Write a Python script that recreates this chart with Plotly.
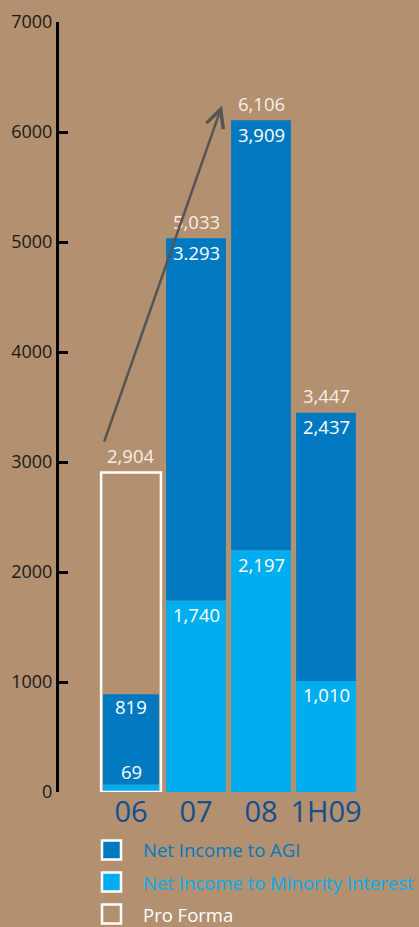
import plotly.graph_objects as go

categories = ["06", "07", "08", "1H09"]
minority = [69, 1740, 2197, 1010]
agi = [819, 3293, 3909, 2437]
pro_forma = [2904, None, None, None]
totals = [2904, 5033, 6106, 3447]
total_labels = ["2,904", "5,033", "6,106", "3,447"]
agi_labels = ["819", "3.293", "3,909", "2,437"]
minority_labels = ["69", "1,740", "2,197", "1,010"]
y_ticks = [0, 1000, 2000, 3000, 4000, 5000, 6000, 7000]

BG = "#B3906F"
DARK = "#0079C1"
LIGHT = "#00AEEF"
FONT = "Open Sans"

W, H = 419, 927
ML, MR, MT, MB = 59, 0, 22, 135
PW, PH = W - ML - MR, H - MT - MB

def px(xp):
    return (xp - ML) / PW

def py(yp):
    return (H - MB - yp) / PH

x = list(range(len(categories)))
fig = go.Figure()
widths_inner = [0.86, 0.92, 0.92, 0.92]
fig.add_trace(go.Bar(x=x, y=minority, width=widths_inner, marker=dict(color=LIGHT, line=dict(width=0)),
                     name="Net Income to Minority Interest"))
fig.add_trace(go.Bar(x=x, y=agi, base=minority, width=widths_inner, marker=dict(color=DARK, line=dict(width=0)),
                     name="Net Income to AGI"))
fig.add_trace(go.Bar(x=x, y=pro_forma, width=0.92,
                     marker=dict(color="rgba(0,0,0,0)", line=dict(color="white", width=2.5)),
                     name="Pro Forma"))

ann = []
for i in range(len(categories)):
    ann.append(dict(x=i, y=totals[i], text=total_labels[i], showarrow=False, yshift=17,
                    font=dict(family=FONT, size=18.5, color="#F6EEE6")))
    top = minority[i] + agi[i]
    ann.append(dict(x=i, y=top, text=agi_labels[i], showarrow=False, yshift=-14 if i else -12,
                    font=dict(family=FONT, size=18.5, color="white")))
    shift = 13 if i == 0 else -14
    ann.append(dict(x=i, y=minority[i], text=minority_labels[i], showarrow=False, yshift=shift,
                    font=dict(family=FONT, size=18.5, color="white")))

# growth arrow
ann.append(dict(x=1.4, y=6240, ax=-0.42, ay=3173, xref="x", yref="y", axref="x", ayref="y",
                showarrow=True, arrowhead=5, arrowsize=1.4, arrowwidth=2.5, arrowcolor="#555555",
                text=""))

# legend (custom)
legend_items = [("Net Income to AGI", DARK, DARK), ("Net Income to Minority Interest", LIGHT, LIGHT),
                ("Pro Forma", "rgba(0,0,0,0)", "white")]
shapes = []
for k, (lab, fill, tcol) in enumerate(legend_items):
    yc = 850 + k * 32
    shapes.append(dict(type="rect", xref="paper", yref="paper", x0=px(102), x1=px(121),
                       y0=py(yc + 9.5), y1=py(yc - 9.5), fillcolor=fill,
                       line=dict(color="white", width=2.5)))
    ann.append(dict(xref="paper", yref="paper", x=px(141), y=py(yc), xanchor="left", yanchor="middle",
                    text=lab, showarrow=False, font=dict(family=FONT, size=18.5, color=tcol)))

fig.update_layout(
    width=W, height=H, margin=dict(l=ML, r=MR, t=MT, b=MB),
    paper_bgcolor=BG, plot_bgcolor=BG, barmode="overlay", showlegend=False,
    annotations=ann, shapes=shapes,
    xaxis=dict(range=[(ML - 131) / 65, (ML - 131) / 65 + PW / 65], tickvals=x, ticktext=categories,
               showgrid=False, zeroline=False, showline=False, ticks="",
               tickfont=dict(family=FONT, size=29, color="#124F8F")),
    yaxis=dict(range=[0, 7000], tickvals=y_ticks, showgrid=False, zeroline=False,
               showline=True, linecolor="black", linewidth=3, ticks="inside", ticklen=9,
               tickwidth=2.5, tickcolor="black",
               tickfont=dict(family=FONT, size=18, color="#1A1A1A")),
)
fig.write_html("out.html")
